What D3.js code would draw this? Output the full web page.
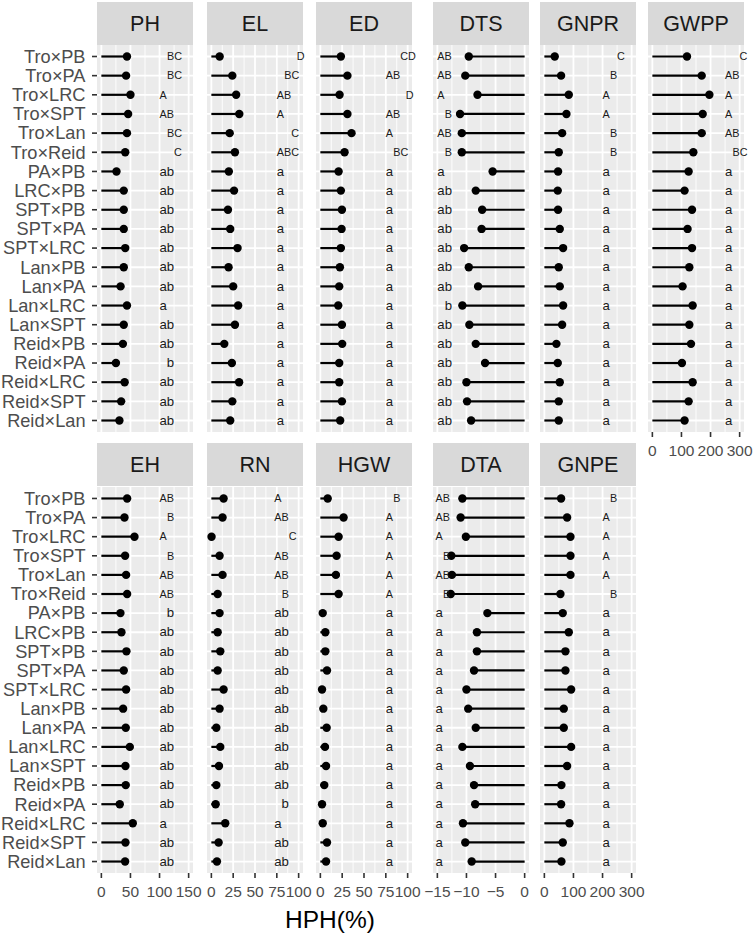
<!DOCTYPE html>
<html><head><meta charset="utf-8">
<script src="https://cdn.jsdelivr.net/npm/d3@7/dist/d3.min.js"></script>
<style>body{margin:0;background:#fff}svg{display:block}</style>
</head><body><svg id="c" width="755" height="937"></svg>
<script>
const categories = ["Tro×PB","Tro×PA","Tro×LRC","Tro×SPT","Tro×Lan","Tro×Reid","PA×PB","LRC×PB","SPT×PB","SPT×PA","SPT×LRC","Lan×PB","Lan×PA","Lan×LRC","Lan×SPT","Reid×PB","Reid×PA","Reid×LRC","Reid×SPT","Reid×Lan"];

const a14 = ["a","a","a","a","a","a","a","a","a","a","a","a","a","a"];

const phValues = [44,42.5,50,46,44,41,26,38.5,38.5,38.5,41,38.5,33,44,38.5,37,25,40,34,31];
const phLetters = ["BC","BC","A","AB","BC","C","ab","ab","ab","ab","ab","ab","ab","a","ab","ab","b","ab","ab","ab"];
const elValues = [9.5,24,28.4,32,21,27,20,26,19,21.6,30,19.7,25,30.7,27,14.8,23.5,31.8,24,21.6];
const elLetters = ["D","BC","AB","A","C","ABC"].concat(a14);
const edValues = [23.5,31,22,31,35.7,27.7,20.9,23.5,24.7,24.3,23.5,22.4,21.6,20.5,24.7,25,21.6,21.6,24.7,22.7];
const edLetters = ["CD","AB","D","AB","A","BC"].concat(a14);
const dtsValues = [-9.6,-10.2,-8.1,-11.1,-10.8,-10.8,-5.5,-8.4,-7.3,-7.4,-10.4,-9.6,-8.0,-10.7,-9.5,-8.4,-6.8,-10.0,-9.9,-9.2];
const dtsLetters = ["AB","AB","A","B","AB","B","a","ab","ab","ab","ab","ab","ab","b","ab","ab","ab","ab","ab","ab"];
const gnprValues = [35.6,57.5,83.9,75.9,61,49.4,47.1,46,47,52.9,64.4,49.4,52.9,64.4,61,41.4,46,52.9,49.4,49.4];
const gnprLetters = ["C","B","A","A","B","B"].concat(a14);
const gwppValues = [119,169.6,196,173,169.6,140.8,124.6,110.7,136.3,121,136.3,127,103.8,138.4,127,132.8,101.7,138.4,124.6,110.7];
const gwppLetters = ["C","AB","A","A","AB","BC"].concat(a14);

const ehValues = [44.3,39.7,56.9,40.8,42.5,44.3,32.8,34.5,43.1,38.5,42.5,37.4,41.9,48.9,41.4,41.9,31.6,54,41.4,40.8];
const ehLetters = ["AB","B","A","B","AB","AB","b","ab","ab","ab","ab","ab","ab","ab","ab","ab","ab","a","ab","ab"];
const rnValues = [14,12.8,0.2,9.4,12.8,7.2,9.4,7.2,10.2,7.2,14,9.4,5.7,10.2,8.7,5.7,4.9,15.9,8.3,6.4];
const rnLetters = ["A","AB","C","AB","AB","B","ab","ab","ab","ab","ab","ab","ab","ab","ab","ab","b","a","ab","ab"];
const hgwValues = [8.4,26.6,20.9,18.6,17.8,20.9,2.7,5.7,5.7,7.6,1.9,3.4,7.2,5.3,6.5,4.5,1.9,2.7,7.6,6.5];
const hgwLetters = ["B","A","A","A","A","A"].concat(a14);
const dtaValues = [-10.7,-11.0,-10.1,-12.6,-12.5,-12.7,-6.4,-8.2,-8.2,-8.7,-10.0,-9.7,-8.4,-10.7,-9.4,-8.7,-8.5,-10.6,-10.2,-9.1];
const dtaLetters = ["AB","AB","A","B","AB","B"].concat(a14);
const gnpeValues = [57.5,78.2,89.7,89.7,89.7,55.2,63.2,83.9,72.4,72.4,92,66.7,66.7,92,78.2,58.6,57.5,86.2,63.2,58.6];
const gnpeLetters = ["B","A","A","A","A","B"].concat(a14);

const ticks150 = [0,50,100,150];
const ticks100 = [0,25,50,75,100];
const ticksNeg = [-15,-10,-5,0];
const ticks300 = [0,100,200,300];
const tickLabels150 = ["0","50","100","150"];
const tickLabels100 = ["0","25","50","75","100"];
const tickLabelsNeg = ["−15","−10","−5","0"];
const tickLabels300 = ["0","100","200","300"];

const xTitle = "HPH(%)";

// layout
const colX = [97, 207, 316, 433, 540, 648];
const panelW = 96;
const rows = [{stripY:2, top:45, bottom:432},{stripY:443, top:487, bottom:873}];
const stripH = 43;

const panels = [
  {name:"PH", v:phValues, l:phLetters, lim:[0,150], t:ticks150, tl:tickLabels150, lx:100, row:0, col:0, axis:false},
  {name:"EL", v:elValues, l:elLetters, lim:[0,100], t:ticks100, tl:tickLabels100, lx:75, row:0, col:1, axis:false},
  {name:"ED", v:edValues, l:edLetters, lim:[0,100], t:ticks100, tl:tickLabels100, lx:75, row:0, col:2, axis:false},
  {name:"DTS", v:dtsValues, l:dtsLetters, lim:[-15,0], t:ticksNeg, tl:tickLabelsNeg, lx:-15, row:0, col:3, axis:false},
  {name:"GNPR", v:gnprValues, l:gnprLetters, lim:[0,300], t:ticks300, tl:tickLabels300, lx:200, row:0, col:4, axis:false},
  {name:"GWPP", v:gwppValues, l:gwppLetters, lim:[0,300], t:ticks300, tl:tickLabels300, lx:250, row:0, col:5, axis:true},
  {name:"EH", v:ehValues, l:ehLetters, lim:[0,150], t:ticks150, tl:tickLabels150, lx:100, row:1, col:0, axis:true},
  {name:"RN", v:rnValues, l:rnLetters, lim:[0,100], t:ticks100, tl:tickLabels100, lx:72, row:1, col:1, axis:true},
  {name:"HGW", v:hgwValues, l:hgwLetters, lim:[0,100], t:ticks100, tl:tickLabels100, lx:75, row:1, col:2, axis:true},
  {name:"DTA", v:dtaValues, l:dtaLetters, lim:[-15,0], t:ticksNeg, tl:tickLabelsNeg, lx:-15.3, row:1, col:3, axis:true},
  {name:"GNPE", v:gnpeValues, l:gnpeLetters, lim:[0,300], t:ticks300, tl:tickLabels300, lx:200, row:1, col:4, axis:true}
];

const FONT = "'Liberation Sans', Arial, Helvetica, sans-serif";
const svg = d3.select("#c").style("font-family", FONT);

const upperOff = [0, 7.5, 14.5, 20];
function letterOffset(s){
  const c = s.charCodeAt(0);
  if (c >= 65 && c <= 90) return upperOff[c-65] || 0;
  return (c-97)*7.3;
}

panels.forEach(p => {
  const r = rows[p.row];
  const x0 = colX[p.col];
  const span = p.lim[1]-p.lim[0];
  const x = d3.scaleLinear().domain([p.lim[0]-0.05*span, p.lim[1]+0.05*span]).range([x0, x0+panelW]);
  const y = d3.scalePoint().domain(categories).range([r.top, r.bottom]).padding(0.6);
  const g = svg.append("g");

  // strip
  g.append("rect").attr("x", x0).attr("y", r.stripY).attr("width", panelW).attr("height", stripH).attr("fill", "#D9D9D9");
  g.append("text").attr("x", x0+panelW/2).attr("y", r.stripY+stripH/2+7.8).attr("text-anchor","middle")
    .attr("font-size", 21.5).attr("fill", "#1A1A1A").text(p.name);

  // panel
  g.append("rect").attr("x", x0).attr("y", r.top).attr("width", panelW).attr("height", r.bottom-r.top).attr("fill", "#EBEBEB");

  // minor grid
  const minor = [];
  for (let i=0;i<p.t.length-1;i++) minor.push((p.t[i]+p.t[i+1])/2);
  g.selectAll(".mn").data(minor).enter().append("line")
    .attr("x1", d=>x(d)).attr("x2", d=>x(d)).attr("y1", r.top).attr("y2", r.bottom)
    .attr("stroke","#fff").attr("stroke-width",0.9);
  g.selectAll(".mj").data(p.t).enter().append("line")
    .attr("x1", d=>x(d)).attr("x2", d=>x(d)).attr("y1", r.top).attr("y2", r.bottom)
    .attr("stroke","#fff").attr("stroke-width",1.8);
  g.selectAll(".hg").data(categories).enter().append("line")
    .attr("x1", x0).attr("x2", x0+panelW).attr("y1", d=>y(d)).attr("y2", d=>y(d))
    .attr("stroke","#fff").attr("stroke-width",1.8);

  // stems
  g.selectAll(".stem").data(p.v).enter().append("line")
    .attr("x1", x(0)).attr("x2", d=>x(d)).attr("y1", (d,i)=>y(categories[i])).attr("y2", (d,i)=>y(categories[i]))
    .attr("stroke","#000").attr("stroke-width",2.2);
  g.selectAll(".dot").data(p.v).enter().append("circle")
    .attr("cx", d=>x(d)).attr("cy", (d,i)=>y(categories[i])).attr("r", 4.2).attr("fill","#000");

  // letters
  g.selectAll(".lt").data(p.l).enter().append("text")
    .attr("x", d=>x(p.lx)+letterOffset(d))
    .attr("y", (d,i)=>y(categories[i]) + (d[0]===d[0].toUpperCase() ? 3.8 : 4.2))
    .attr("font-size", d=> d[0]===d[0].toUpperCase() ? 10.8 : 13.2)
    .attr("fill","#1A1A1A").text(d=>d);

  // x axis
  if (p.axis) {
    g.selectAll(".tk").data(p.t).enter().append("line")
      .attr("x1", d=>x(d)).attr("x2", d=>x(d)).attr("y1", r.bottom).attr("y2", r.bottom+5)
      .attr("stroke","#333").attr("stroke-width",1.6);
    g.selectAll(".tl").data(p.t).enter().append("text")
      .attr("x", d=>x(d)).attr("y", r.bottom+24).attr("text-anchor","middle")
      .attr("font-size",15.5).attr("fill","#4D4D4D").text((d,i)=>p.tl[i]);
  }

  // y axis
  if (p.col === 0) {
    g.selectAll(".ytk").data(categories).enter().append("line")
      .attr("x1", x0-5).attr("x2", x0).attr("y1", d=>y(d)).attr("y2", d=>y(d))
      .attr("stroke","#333").attr("stroke-width",1.6);
    g.selectAll(".ylb").data(categories).enter().append("text")
      .attr("x", x0-11.5).attr("y", d=>y(d)+6.3).attr("text-anchor","end")
      .attr("font-size",18.2).attr("fill","#4D4D4D").text(d=>d);
  }
});

svg.append("text").attr("x", 330).attr("y", 928).attr("text-anchor","middle")
  .attr("font-size", 24.5).attr("fill","#000").text(xTitle);
</script></body></html>
